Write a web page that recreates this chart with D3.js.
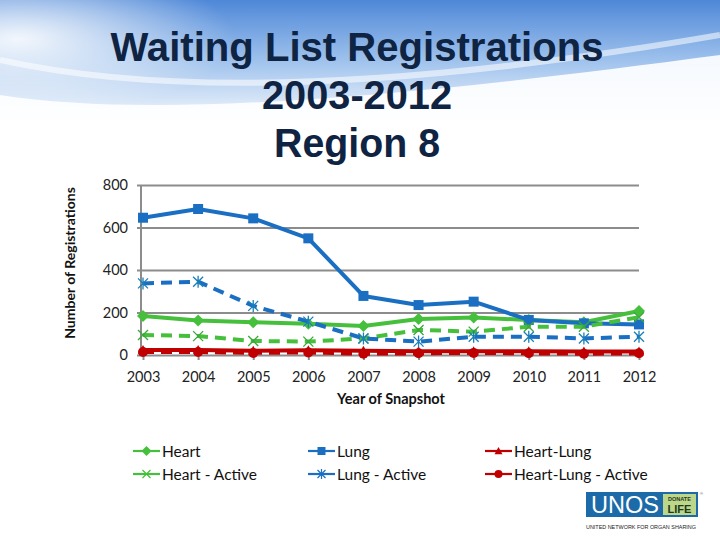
<!DOCTYPE html>
<html>
<head>
<meta charset="utf-8">
<script src="https://cdn.jsdelivr.net/npm/d3@7"></script>
<style>
  html, body { margin: 0; padding: 0; background: #fff; }
  svg { display: block; }
</style>
</head>
<body>
<div id="chart"></div>
<script>
// data
const years = [2003, 2004, 2005, 2006, 2007, 2008, 2009, 2010, 2011, 2012];
const heart = [184, 162, 154, 147, 136, 169, 176, 165, 154, 207];
const lung = [646, 687, 643, 549, 278, 235, 251, 165, 149, 144];
const heartLung = [24, 24, 20, 22, 20, 18, 18, 18, 16, 16];
const heartActive = [94, 89, 66, 63, 78, 118, 110, 133, 133, 178];
const lungActive = [337, 345, 231, 157, 78, 63, 86, 86, 78, 86];
const heartLungActive = [14, 14, 10, 12, 6, 8, 10, 8, 6, 8];
const yTicks = [0, 200, 400, 600, 800];
const titleLines = ['Waiting List Registrations', '2003-2012', 'Region 8'];

const W = 720, H = 540;
const GREEN = '#46c03c', BLUE = '#1a6fc2', RED = '#c00000';

// series in Excel draw order (legend fills row by row)
const series = [
  { name: 'Heart', values: heart, color: GREEN, dash: null, marker: 'diamond' },
  { name: 'Lung', values: lung, color: BLUE, dash: null, marker: 'square' },
  { name: 'Heart-Lung', values: heartLung, color: RED, dash: null, marker: 'triangle' },
  { name: 'Heart - Active', values: heartActive, color: GREEN, dash: '11,7', marker: 'x' },
  { name: 'Lung - Active', values: lungActive, color: BLUE, dash: '11,7', marker: 'star' },
  { name: 'Heart-Lung - Active', values: heartLungActive, color: RED, dash: '11,7', marker: 'circle' }
];

const svg = d3.select('#chart').append('svg')
  .attr('width', W).attr('height', H);

// --- slide header background (blue sky swoosh) ---
const defs = svg.append('defs');
const g1 = defs.append('linearGradient').attr('id', 'sky').attr('x1', 0).attr('y1', 0).attr('x2', 0).attr('y2', 1);
g1.append('stop').attr('offset', '0%').attr('stop-color', '#4f88d8');
g1.append('stop').attr('offset', '45%').attr('stop-color', '#9cc0ec');
g1.append('stop').attr('offset', '100%').attr('stop-color', '#ffffff');
const g2 = defs.append('radialGradient').attr('id', 'glow').attr('cx', 0.05).attr('cy', 0.3).attr('r', 0.6);
g2.append('stop').attr('offset', '0%').attr('stop-color', '#ffffff').attr('stop-opacity', 0.9);
g2.append('stop').attr('offset', '100%').attr('stop-color', '#ffffff').attr('stop-opacity', 0);

svg.append('rect').attr('width', W).attr('height', 130).attr('fill', 'url(#sky)');
svg.append('rect').attr('width', 360).attr('height', 130).attr('fill', 'url(#glow)');
svg.append('path')
  .attr('d', 'M0,95 C160,120 420,95 720,55 L720,130 L0,130 Z')
  .attr('fill', '#ffffff').attr('opacity', 0.9);
svg.append('path')
  .attr('d', 'M0,60 C180,100 430,85 720,35')
  .attr('fill', 'none').attr('stroke', '#ffffff').attr('stroke-width', 6).attr('opacity', 0.55);
svg.append('rect').attr('y', 128).attr('width', W).attr('height', H - 128).attr('fill', '#fff');

// --- title ---
svg.append('g').selectAll('text')
  .data(titleLines)
  .join('text')
  .attr('x', 357)
  .attr('y', (d, i) => 61 + i * 48)
  .attr('text-anchor', 'middle')
  .attr('font-family', '"Liberation Sans", Arial, sans-serif')
  .attr('font-weight', 'bold')
  .attr('font-size', 40)
  .attr('fill', '#0f2342')
  .attr('textLength', (d, i) => [493, 190, 166][i])
  .attr('lengthAdjust', 'spacingAndGlyphs')
  .text(d => d);

// --- scales ---
const x = d3.scalePoint().domain(years).range([143, 639]);
const y = d3.scaleLinear().domain([0, 800]).range([355, 185]);

const FONT = 'Lato, "Open Sans", sans-serif';

// gridlines
const yAxis = d3.axisLeft(y).tickValues(yTicks).tickSize(-(x.range()[1] - x.range()[0] + 2)).tickPadding(13);
const gy = svg.append('g').attr('transform', 'translate(141,0)').call(yAxis);
gy.select('.domain').remove();
gy.selectAll('.tick line').attr('stroke', '#8c8c8c').attr('stroke-width', 2.2);
gy.selectAll('.tick text').attr('font-family', FONT).attr('font-size', 14.5).attr('fill', '#222');
// small tick marks left of axis
gy.selectAll('.tick').append('line').attr('x1', -4).attr('x2', 0).attr('stroke', '#8c8c8c').attr('stroke-width', 2);

// vertical axis line
svg.append('line').attr('x1', 141).attr('x2', 141).attr('y1', y(800)).attr('y2', y(0))
  .attr('stroke', '#8c8c8c').attr('stroke-width', 2);

const xAxis = d3.axisBottom(x).tickSize(5).tickPadding(12);
const gx = svg.append('g').attr('transform', `translate(0,${y(0)})`).call(xAxis);
gx.select('.domain').remove();
gx.selectAll('.tick line').attr('stroke', '#8c8c8c').attr('stroke-width', 2);
gx.selectAll('.tick text').attr('font-family', FONT).attr('font-size', 14.5).attr('fill', '#222');

// axis titles
svg.append('text')
  .attr('transform', 'translate(75,263) rotate(-90)')
  .attr('text-anchor', 'middle')
  .attr('font-family', FONT).attr('font-weight', 'bold').attr('font-size', 14).attr('fill', '#111')
  .text('Number of Registrations');
svg.append('text')
  .attr('x', 391).attr('y', 404)
  .attr('text-anchor', 'middle')
  .attr('font-family', FONT).attr('font-weight', 'bold').attr('font-size', 14.5).attr('fill', '#111')
  .text('Year of Snapshot');

// --- markers ---
function markerPath(type, s) {
  const r = s / 2;
  switch (type) {
    case 'diamond': return `M0,${-r - 1}L${r + 1},0L0,${r + 1}L${-r - 1},0Z`;
    case 'square': return `M${-r},${-r}H${r}V${r}H${-r}Z`;
    case 'triangle': return `M0,${-r}L${r},${r * 0.8}L${-r},${r * 0.8}Z`;
    case 'circle': return d3.symbol(d3.symbolCircle, Math.PI * r * r)();
    case 'x': return `M${-r},${-r}L${r},${r}M${-r},${r}L${r},${-r}`;
    case 'star': return `M${-r},${-r}L${r},${r}M${-r},${r}L${r},${-r}M0,${-r - 1}V${r + 1}`;
  }
}
const strokeMarker = t => t === 'x' || t === 'star';

const line = d3.line().x((d, i) => x(years[i])).y(d => y(d));

const plot = svg.append('g');
series.forEach(s => {
  plot.append('path')
    .datum(s.values)
    .attr('d', line)
    .attr('fill', 'none')
    .attr('stroke', s.color)
    .attr('stroke-width', 4)
    .attr('stroke-dasharray', s.dash)
    .attr('stroke-linejoin', 'round');
  plot.append('g').selectAll('path')
    .data(s.values)
    .join('path')
    .attr('transform', (d, i) => `translate(${x(years[i])},${y(d)})`)
    .attr('d', markerPath(s.marker, 10))
    .attr('fill', strokeMarker(s.marker) ? 'none' : s.color)
    .attr('stroke', strokeMarker(s.marker) ? (s.marker === 'x' ? '#3aa83a' : '#1a7fb8') : 'none')
    .attr('stroke-width', strokeMarker(s.marker) ? 1.3 : 0);
});

// --- legend ---
const legendCols = [133, 308, 485];
const legendRows = [451, 474];
const legend = svg.append('g');
series.forEach((s, i) => {
  const lx = legendCols[i % 3], ly = legendRows[Math.floor(i / 3)];
  const gi = legend.append('g').attr('transform', `translate(${lx},${ly})`);
  gi.append('line').attr('x1', 0).attr('x2', 27).attr('y1', 0).attr('y2', 0)
    .attr('stroke', s.color).attr('stroke-width', 2.2);
  gi.append('path')
    .attr('transform', 'translate(13.5,0)')
    .attr('d', markerPath(s.marker, 8))
    .attr('fill', strokeMarker(s.marker) ? 'none' : s.color)
    .attr('stroke', strokeMarker(s.marker) ? s.color : 'none')
    .attr('stroke-width', 1.2);
  gi.append('text')
    .attr('x', 29).attr('y', 5.5)
    .attr('font-family', FONT).attr('font-size', 15.5).attr('fill', '#111')
    .text(s.name);
});

// --- UNOS logo ---
const logo = svg.append('g').attr('transform', 'translate(586,492)');
logo.append('rect').attr('width', 112).attr('height', 25).attr('fill', '#1c6aa8');
logo.append('rect').attr('x', 77).attr('y', 2).attr('width', 33).attr('height', 21).attr('fill', '#bcd68a');
logo.append('text').attr('x', 39).attr('y', 21).attr('text-anchor', 'middle')
  .attr('font-family', '"Liberation Sans Narrow", "Liberation Sans", sans-serif').attr('font-size', 24)
  .attr('fill', '#fff').attr('textLength', 68).attr('lengthAdjust', 'spacingAndGlyphs').text('UNOS');
logo.append('text').attr('x', 93.5).attr('y', 9).attr('text-anchor', 'middle')
  .attr('font-family', '"Liberation Sans", sans-serif').attr('font-size', 5.5).attr('font-weight', 'bold')
  .attr('fill', '#1d3a20').text('DONATE');
logo.append('text').attr('x', 93.5).attr('y', 21).attr('text-anchor', 'middle')
  .attr('font-family', '"Liberation Sans", sans-serif').attr('font-size', 11).attr('font-weight', 'bold')
  .attr('fill', '#1d3a20').text('LIFE');
logo.append('text').attr('x', 114).attr('y', 3).attr('font-family', 'sans-serif').attr('font-size', 4)
  .attr('fill', '#555').text('®');
logo.append('text').attr('x', 0).attr('y', 37)
  .attr('font-family', '"Liberation Sans", sans-serif').attr('font-size', 5).attr('fill', '#222')
  .attr('textLength', 110).attr('lengthAdjust', 'spacingAndGlyphs')
  .text('UNITED NETWORK FOR ORGAN SHARING');
</script>
</body>
</html>
